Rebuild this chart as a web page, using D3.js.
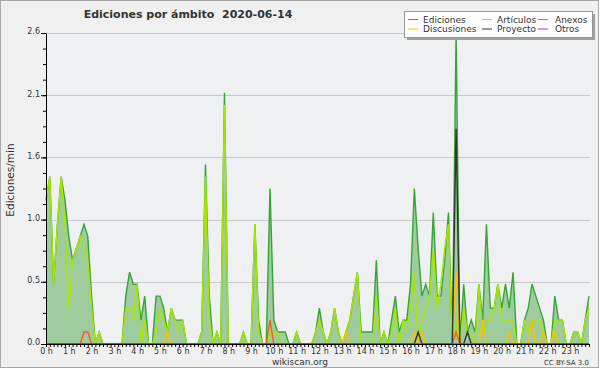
<!DOCTYPE html>
<html>
<head>
<meta charset="utf-8">
<script src="https://cdnjs.cloudflare.com/ajax/libs/d3/7.8.5/d3.min.js"></script>
<style>
  body { margin: 0; background: #fff; }
  text { font-family: "DejaVu Sans", sans-serif; fill: #333; }
</style>
</head>
<body>
<script>
// 10-minute bins, 144 per day (edits per minute)
var hourLabels = ["0 h","1 h","2 h","3 h","4 h","5 h","6 h","7 h","8 h","9 h","10 h","11 h",
                  "12 h","13 h","14 h","15 h","16 h","17 h","18 h","19 h","20 h","21 h","22 h","23 h"];

var ediciones = [
  1.2,1.4,0.5,1.0,1.4,1.2, 0.9,0.7,0.8,0.9,1.0,0.9, 0.4,0,0.1,0,0,0, 0,0,0,0.4,0.6,0.5,
  0.5,0.2,0.4,0,0,0.4, 0.4,0.3,0.1,0.3,0.2,0.2, 0.2,0,0,0,0,0.1, 1.5,0.4,0,0.1,0,2.1,
  0,0,0,0,0.1,0, 0,1.0,0.2,0,0,1.3, 0.2,0.1,0.1,0.1,0,0, 0.1,0,0,0,0,0.1,
  0.3,0.1,0,0.1,0.3,0.1, 0,0.1,0.2,0.4,0.6,0.1, 0.1,0.1,0.1,0.7,0,0.1, 0,0.2,0.4,0.1,0.2,0.2,
  0.5,1.3,0.8,0.4,0.5,0.4, 1.1,0.4,0.4,0.7,1.1,0, 2.6,0,0.5,0.1,0.2,0.1, 0.5,0.2,1.0,0.3,0.3,0.5,
  0.3,0.5,0.3,0.6,0,0, 0.2,0.3,0.5,0.4,0.3,0.2, 0,0,0.4,0.2,0.2,0, 0,0.1,0.1,0,0.2,0.4
];
var articulos = [
  1.2,1.4,0.5,1.0,1.4,1.0, 0.3,0.7,0.8,0.9,0.8,0.7, 0.3,0,0.1,0,0,0, 0,0,0,0.3,0.3,0.2,
  0.5,0,0.2,0,0,0.1, 0.3,0.2,0.1,0.3,0.2,0.1, 0.2,0,0,0,0,0.1, 1.4,0.2,0,0.1,0,2.0,
  0,0,0,0,0.1,0, 0,1.0,0.1,0,0,0.1, 0.1,0.1,0,0,0,0, 0.1,0,0,0,0,0.1,
  0.2,0.1,0,0.1,0.3,0.1, 0,0.1,0.2,0.4,0.6,0, 0,0,0,0.4,0,0.1, 0,0.1,0.3,0,0.2,0.1,
  0.3,0.6,0,0.2,0.3,0.4, 0.8,0.3,0.5,0.8,1.0,0, 0.2,0,0.3,0.1,0.1,0, 0.5,0.1,0.2,0.2,0.3,0.5,
  0.2,0.2,0.2,0.2,0,0, 0.2,0.1,0.2,0.2,0.2,0.1, 0,0,0.2,0.2,0.2,0, 0,0.1,0.1,0,0.2,0.3
];
var anexos = [
  0,0,0,0,0,0, 0,0,0,0,0.1,0.1, 0,0,0,0,0,0, 0,0,0,0,0,0,
  0,0,0,0,0,0, 0,0,0,0,0,0, 0,0,0,0,0,0, 0,0,0,0,0,0,
  0,0,0,0,0,0, 0,0,0,0,0,0.2, 0,0,0,0,0,0, 0,0,0,0,0,0,
  0,0,0,0,0,0, 0,0,0,0,0,0, 0,0,0,0,0,0, 0,0,0,0,0,0,
  0,0,0,0,0,0, 0,0,0,0,0,0, 0.1,0,0,0,0,0, 0,0,0,0,0,0,
  0,0,0,0,0,0, 0,0,0,0,0,0, 0,0,0,0,0,0, 0,0,0,0,0,0
];
var discusiones = [
  0,0,0,0,0,0, 0,0,0,0,0,0, 0,0,0,0,0,0, 0,0,0,0,0,0,
  0,0,0,0,0,0, 0,0,0.1,0,0,0, 0,0,0,0,0,0, 0,0,0,0,0,0,
  0,0,0,0,0,0, 0,0,0,0,0,0, 0,0,0,0,0,0, 0,0,0,0,0,0,
  0,0,0,0,0,0, 0,0.1,0,0,0,0, 0,0,0,0,0,0, 0,0,0,0,0,0,
  0,0.1,0,0.1,0,0, 0,0,0,0,0,0, 0.6,0,0,0,0,0, 0,0.2,0,0,0,0,
  0,0,0.1,0,0,0, 0,0,0.2,0,0,0.1, 0,0,0.1,0,0,0, 0,0,0,0,0,0
];
var proyecto = [
  0,0,0,0,0,0, 0,0,0,0,0,0, 0,0,0,0,0,0, 0,0,0,0,0,0,
  0,0,0,0,0,0, 0,0,0,0,0,0, 0,0,0,0,0,0, 0,0,0,0,0,0,
  0,0,0,0,0,0, 0,0,0,0,0,0, 0,0,0,0,0,0, 0,0,0,0,0,0,
  0,0,0,0,0,0, 0,0,0,0,0,0, 0,0,0,0,0,0, 0,0,0,0,0,0,
  0,0,0.1,0,0,0, 0,0,0,0,0,0, 1.8,0,0,0.1,0,0, 0,0,0,0,0,0,
  0,0,0,0,0,0, 0,0,0,0,0,0, 0,0,0,0,0,0, 0,0,0,0,0,0
];
var otros = [
  0,0,0,0,0,0, 0,0,0,0,0,0, 0,0,0,0,0,0, 0,0,0,0,0,0,
  0,0,0,0,0,0, 0,0,0,0,0,0, 0,0,0,0,0,0, 0,0,0,0,0,0,
  0,0,0,0,0,0, 0,0,0,0,0,0, 0,0,0,0,0,0, 0,0,0,0,0,0,
  0,0,0,0,0,0, 0,0,0,0,0,0, 0,0,0,0,0,0, 0,0,0,0,0,0,
  0,0,0,0,0,0, 0,0,0,0,0,0, 0,0,0,0,0,0, 0,0,0,0,0,0,
  0,0,0,0,0,0, 0,0,0,0,0,0, 0,0,0,0,0,0, 0,0,0,0,0,0
];
var yTickValues = [0, 0.52, 1.04, 1.56, 2.08, 2.6];

var W = 600, H = 370;
var svg = d3.select("body").append("svg").attr("width", W).attr("height", H);

// frame
svg.append("rect").attr("x", 0.5).attr("y", 0.5).attr("width", 598).attr("height", 367)
  .attr("fill", "#f0f0f0").attr("stroke", "#a8a8a8");

var x = d3.scaleLinear().domain([0, 143]).range([46, 589]);
var y = d3.scaleLinear().domain([0, 2.6]).range([344, 33]);

svg.append("rect").attr("x", 46).attr("y", 33).attr("width", 544).attr("height", 311)
  .attr("fill", "#eef0f2");

// grid
svg.append("g").selectAll("line")
  .data(yTickValues.slice(1))
  .enter().append("line")
  .attr("x1", 46).attr("x2", 590)
  .attr("y1", d => Math.round(y(d)) + 0.5).attr("y2", d => Math.round(y(d)) + 0.5)
  .attr("stroke", "#c8c8c8");

var line = d3.line().x((d, i) => x(i)).y(d => y(d));
var area = d3.area().x((d, i) => x(i)).y0(y(0)).y1(d => y(d));

svg.append("path").datum(ediciones).attr("d", area).attr("fill", "#9fcc9f");

var series = [
  {name: "Ediciones", values: ediciones, color: "#35a635"},
  {name: "Artículos", values: articulos, color: "#a8e600"},
  {name: "Anexos", values: anexos, color: "#ff5a1e"},
  {name: "Discusiones", values: discusiones, color: "#ffbf00"},
  {name: "Proyecto", values: proyecto, color: "#333333"},
  {name: "Otros", values: otros, color: "#9b30ff"}
];
var drawOrder = [0, 1, 3, 2, 4, 5];
drawOrder.forEach(function(k) {
  svg.append("path").datum(series[k].values).attr("d", line)
    .attr("fill", "none").attr("stroke", series[k].color).attr("stroke-width", 1.4)
    .attr("stroke-linejoin", "miter");
});

// axes
var xAxis = d3.axisBottom(x).tickValues(d3.range(144)).tickSize(3).tickSizeOuter(0).tickPadding(1)
  .tickFormat(i => i % 6 === 0 ? hourLabels[i / 6] : "");
var gx = svg.append("g").attr("transform", "translate(0,344)").call(xAxis);
gx.select(".domain").attr("stroke", "#000").attr("d", "M46,0.5H590");
gx.selectAll(".tick line").attr("stroke", "#000");
gx.selectAll("text").style("font-size", "8px").attr("fill", "#333");

var yMinor = d3.axisLeft(y).tickValues(d3.range(0, 2.61, 0.13)).tickSize(3).tickFormat("");
var gy2 = svg.append("g").attr("transform", "translate(46,0)").call(yMinor);
gy2.select(".domain").remove();
gy2.selectAll(".tick line").attr("stroke", "#000");

var yAxis = d3.axisLeft(y).tickValues(yTickValues).tickSize(5).tickSizeOuter(0).tickPadding(1)
  .tickFormat(d3.format(".1f"));
var gy = svg.append("g").attr("transform", "translate(46,0)").call(yAxis);
gy.select(".domain").attr("stroke", "#000");
gy.selectAll(".tick line").attr("stroke", "#000");
gy.selectAll("text").style("font-size", "8px").attr("fill", "#333").attr("dy", "0.1em");

// title and labels
svg.append("text").attr("x", 188).attr("y", 18).attr("text-anchor", "middle")
  .style("font-size", "11px").style("font-weight", "bold").style("white-space", "pre")
  .attr("fill", "#222").text("Ediciones por ámbito  2020-06-14");

svg.append("text").attr("transform", "translate(13.5,180) rotate(-90)").attr("text-anchor", "middle")
  .style("font-size", "10.5px").text("Ediciones/min");

svg.append("text").attr("x", 300).attr("y", 365).attr("text-anchor", "middle")
  .style("font-size", "9px").text("wikiscan.org");
svg.append("text").attr("x", 589).attr("y", 365).attr("text-anchor", "end")
  .style("font-size", "7px").text("CC BY-SA 3.0");

// legend
var lg = svg.append("g");
lg.append("rect").attr("x", 407).attr("y", 14).attr("width", 188).attr("height", 26).attr("fill", "#a0a0a0");
lg.append("rect").attr("x", 404.5).attr("y", 11.5).attr("width", 188).attr("height", 26)
  .attr("fill", "#fff").attr("stroke", "#999");
var legendPos = [[408, 19.5], [482, 19.5], [538, 19.5], [408, 29], [482, 29], [538, 29]];
var legendOrder = [0, 1, 2, 3, 4, 5];
legendOrder.forEach(function(k, j) {
  var p = legendPos[j];
  lg.append("line").attr("x1", p[0]).attr("x2", p[0] + 10).attr("y1", p[1]).attr("y2", p[1])
    .attr("stroke", series[k].color).attr("stroke-width", 1);
  lg.append("text").attr("x", p[0] + (j % 3 === 2 ? 17 : 15)).attr("y", p[1] + 3.2)
    .style("font-size", "9px").text(series[k].name);
});
</script>
</body>
</html>
